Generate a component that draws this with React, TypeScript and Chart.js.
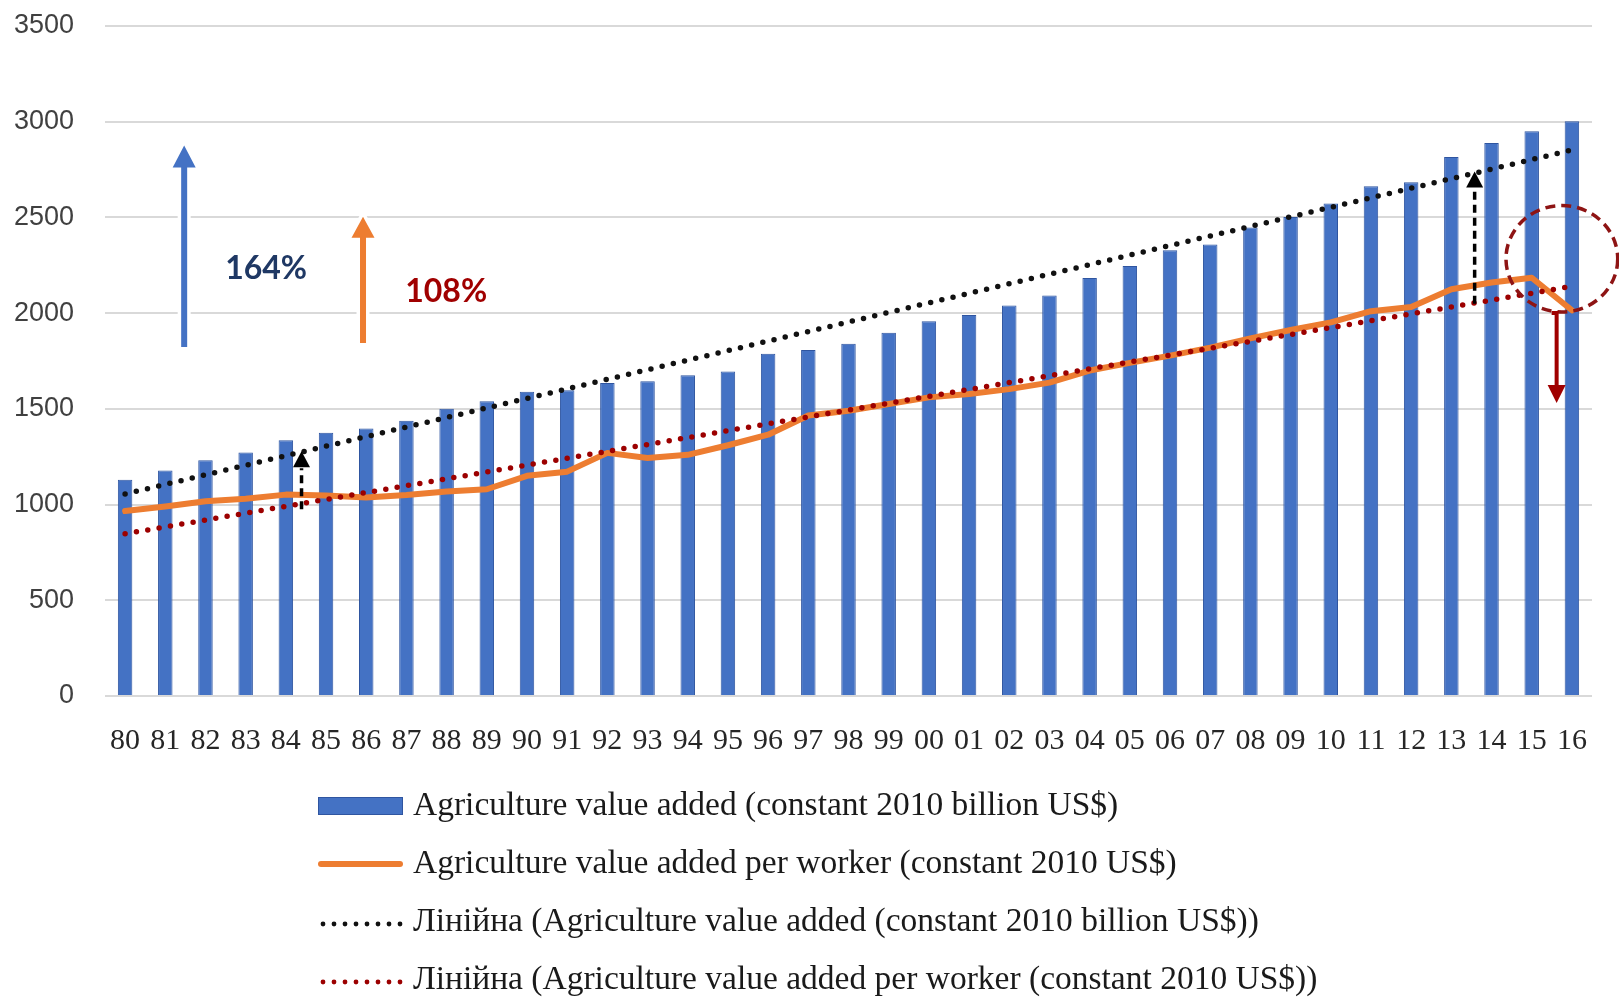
import React, { useEffect, useRef } from "react";
import { Chart, registerables } from "chart.js";

Chart.register(...registerables);

// ---------- data ----------
const years = [
  "80", "81", "82", "83", "84", "85", "86", "87", "88", "89",
  "90", "91", "92", "93", "94", "95", "96", "97", "98", "99",
  "00", "01", "02", "03", "04", "05", "06", "07", "08", "09",
  "10", "11", "12", "13", "14", "15", "16",
];

// Agriculture value added (constant 2010 billion US$)
const valueAdded = [
  1130, 1178, 1232, 1272, 1336, 1375, 1398, 1438, 1500, 1540,
  1590, 1597, 1635, 1644, 1675, 1695, 1788, 1808, 1840, 1898,
  1958, 1990, 2040, 2092, 2184, 2246, 2328, 2358, 2448, 2502,
  2573, 2663, 2684, 2816, 2889, 2950, 3002,
];

// Agriculture value added per worker (constant 2010 US$)
const perWorker = [
  966, 990, 1017, 1030, 1052, 1047, 1037, 1050, 1068, 1080,
  1150, 1172, 1270, 1243, 1260, 1310, 1365, 1465, 1490, 1525,
  1560, 1578, 1603, 1637, 1700, 1740, 1778, 1820, 1868, 1912,
  1952, 2010, 2032, 2125, 2160, 2185, 2015,
];

const yTickMin = 0;
const yTickMax = 3500;
const yTickStep = 500;

const seriesLabels = [
  "Agriculture value added (constant 2010 billion US$)",
  "Agriculture value added per worker (constant 2010 US$)",
  "Лінійна (Agriculture value added (constant 2010 billion US$))",
  "Лінійна (Agriculture value added per worker (constant 2010 US$))",
];

const growthLabels = ["164%", "108%"];

// least-squares linear trendline (as Excel's "Linear" trendline)
function linearTrend(values: number[]): number[] {
  const n = values.length;
  let sx = 0, sy = 0, sxx = 0, sxy = 0;
  values.forEach((v, i) => {
    sx += i; sy += v; sxx += i * i; sxy += i * v;
  });
  const slope = (n * sxy - sx * sy) / (n * sxx - sx * sx);
  const intercept = (sy - slope * sx) / n;
  return values.map((_, i) => intercept + slope * i);
}

// ---------- drawing helpers ----------
const BLUE = "#4472C4";
const BLUE_EDGE = "#2F55A0";
const ORANGE = "#ED7D31";
const DARK_RED = "#A00000";

function solidArrow(
  ctx: CanvasRenderingContext2D,
  x: number, yBase: number, yTip: number,
  color: string, shaft: number, headW: number, headL: number
) {
  const dir = yBase > yTip ? 1 : -1;
  const yh = yTip + dir * headL;
  ctx.beginPath();
  ctx.moveTo(x - shaft / 2, yBase);
  ctx.lineTo(x - shaft / 2, yh);
  ctx.lineTo(x - headW / 2, yh);
  ctx.lineTo(x, yTip);
  ctx.lineTo(x + headW / 2, yh);
  ctx.lineTo(x + shaft / 2, yh);
  ctx.lineTo(x + shaft / 2, yBase);
  ctx.closePath();
  ctx.save();
  ctx.lineJoin = "round";
  ctx.strokeStyle = "#ffffff";
  ctx.lineWidth = 7;
  ctx.stroke();
  ctx.fillStyle = color;
  ctx.fill();
  ctx.restore();
}

function dashedArrow(
  ctx: CanvasRenderingContext2D,
  x: number, yBase: number, yTip: number,
  color: string, width: number, dash: number[], headW: number, headL: number
) {
  const dir = yBase > yTip ? 1 : -1;
  const yh = yTip + dir * headL;
  ctx.save();
  ctx.strokeStyle = color;
  ctx.lineWidth = width;
  ctx.setLineDash(dash);
  ctx.beginPath();
  ctx.moveTo(x, yBase);
  ctx.lineTo(x, yh + dir * 1);
  ctx.stroke();
  ctx.setLineDash([]);
  ctx.fillStyle = color;
  ctx.beginPath();
  ctx.moveTo(x - headW / 2, yh);
  ctx.lineTo(x, yTip);
  ctx.lineTo(x + headW / 2, yh);
  ctx.closePath();
  ctx.fill();
  ctx.restore();
}

const annotationPlugin = {
  id: "annotations",
  afterDatasetsDraw(chart: any) {
    const { ctx } = chart;
    const xs = chart.scales.x;
    const ys = chart.scales.y;
    const X = (i: number) => xs.getPixelForValue(i);
    const Y = (v: number) => ys.getPixelForValue(v);

    // growth arrows
    solidArrow(ctx, X(1.47), Y(1823), Y(2876), BLUE, 6, 23, 22);
    solidArrow(ctx, X(5.92), Y(1844), Y(2504), ORANGE, 6, 23, 21);

    ctx.save();
    ctx.font = "bold 32px Lato";
    ctx.textBaseline = "middle";
    ctx.textAlign = "left";
    ctx.fillStyle = "#1F3864";
    ctx.fillText(growthLabels[0], X(2.49), Y(2232));
    ctx.fillStyle = DARK_RED;
    ctx.fillText(growthLabels[1], X(6.97), Y(2111));
    ctx.restore();

    // gap arrows between trend lines
    dashedArrow(ctx, X(4.39), Y(975), Y(1279), "#000000", 3.5, [8, 5], 17, 16);
    dashedArrow(ctx, X(33.58), Y(2049), Y(2740), "#000000", 3.5, [8, 5], 17, 16);

    // dashed ellipse around the 2015-2016 drop
    const cx = X(35.75);
    const cy = Y(2284);
    const rx = X(35.75 + 1.39) - cx;
    const ry = Y(2284 - 278) - cy;
    ctx.save();
    ctx.strokeStyle = "#8E1414";
    ctx.lineWidth = 3.5;
    ctx.setLineDash([10, 6]);
    ctx.beginPath();
    ctx.ellipse(cx, cy, rx, ry, 0, 0, Math.PI * 2);
    ctx.stroke();
    ctx.restore();

    // down arrow
    ctx.save();
    const ax = X(35.62);
    const ya = Y(2001);
    const yt = Y(1530);
    ctx.strokeStyle = DARK_RED;
    ctx.lineWidth = 4;
    ctx.beginPath();
    ctx.moveTo(ax - 5, ya);
    ctx.lineTo(ax, ya);
    ctx.lineTo(ax, yt - 16);
    ctx.stroke();
    ctx.fillStyle = DARK_RED;
    ctx.beginPath();
    ctx.moveTo(ax - 9, yt - 18);
    ctx.lineTo(ax, yt);
    ctx.lineTo(ax + 9, yt - 18);
    ctx.closePath();
    ctx.fill();
    ctx.restore();
  },
  afterDraw(chart: any) {
    const { ctx, chartArea } = chart;
    const ds = chart.data.datasets;
    const x0 = chartArea.left + 213;
    const symW = 85;
    const textX = x0 + 95;
    const rows = [110, 168, 226, 284].map((d) => chartArea.bottom + d);
    ctx.save();
    ctx.font = '33.5px "Liberation Serif"';
    ctx.textBaseline = "middle";
    ctx.textAlign = "left";
    rows.forEach((y: number, i: number) => {
      const d = ds[i];
      if (i === 0) {
        ctx.fillStyle = d.backgroundColor;
        ctx.fillRect(x0, y - 9, symW, 18);
        ctx.strokeStyle = d.borderColor;
        ctx.lineWidth = 1;
        ctx.strokeRect(x0 + 0.5, y - 8.5, symW - 1, 17);
      } else if (i === 1) {
        ctx.strokeStyle = d.borderColor;
        ctx.lineWidth = 6;
        ctx.lineCap = "round";
        ctx.beginPath();
        ctx.moveTo(x0 + 3, y);
        ctx.lineTo(x0 + symW - 3, y);
        ctx.stroke();
      } else {
        ctx.fillStyle = d.borderColor;
        for (let k = 0; k < 8; k++) {
          ctx.beginPath();
          ctx.arc(x0 + 5 + k * 11, y + 2, 2.4, 0, Math.PI * 2);
          ctx.fill();
        }
      }
      ctx.fillStyle = "#1a1a1a";
      ctx.fillText(d.label, textX, y);
    });
    ctx.restore();
  },
};

export default function App() {
  const canvasRef = useRef<HTMLCanvasElement | null>(null);

  useEffect(() => {
    const canvas = canvasRef.current;
    if (!canvas) return;
    const chart = new Chart(canvas, {
      type: "bar",
      data: {
        labels: years,
        datasets: [
          {
            type: "bar",
            label: seriesLabels[0],
            data: valueAdded,
            backgroundColor: BLUE,
            borderColor: BLUE_EDGE,
            borderWidth: 1,
            barPercentage: 0.36,
            categoryPercentage: 1,
            order: 4,
          },
          {
            type: "line",
            label: seriesLabels[1],
            data: perWorker,
            borderColor: ORANGE,
            backgroundColor: ORANGE,
            borderWidth: 6,
            pointRadius: 0,
            tension: 0,
            borderJoinStyle: "round",
            borderCapStyle: "round",
            order: 3,
          },
          {
            type: "line",
            label: seriesLabels[2],
            data: linearTrend(valueAdded),
            borderColor: "#111111",
            backgroundColor: "#111111",
            borderWidth: 5.5,
            borderDash: [0, 11.5],
            borderCapStyle: "round",
            pointRadius: 0,
            order: 2,
          },
          {
            type: "line",
            label: seriesLabels[3],
            data: linearTrend(perWorker),
            borderColor: "#9C0000",
            backgroundColor: "#9C0000",
            borderWidth: 5.5,
            borderDash: [0, 11.5],
            borderCapStyle: "round",
            pointRadius: 0,
            order: 1,
          },
        ] as any,
      },
      options: {
        responsive: false,
        animation: false,
        layout: { padding: { left: 0, right: 27, top: 26, bottom: 242 } },
        plugins: {
          legend: { display: false },
          tooltip: { enabled: false },
        },
        scales: {
          x: {
            grid: { display: false },
            border: { display: false },
            ticks: {
              autoSkip: false,
              maxRotation: 0,
              minRotation: 0,
              padding: 19,
              color: "#262626",
              font: { family: "Liberation Serif", size: 30 },
            },
            afterFit: (s: any) => { s.height = 60; },
          },
          y: {
            min: yTickMin,
            max: yTickMax,
            ticks: {
              stepSize: yTickStep,
              padding: 0,
              color: "#404040",
              font: { family: "Liberation Sans", size: 27 },
              callback: (v: any) => String(v),
            },
            grid: {
              color: "#D9D9D9",
              lineWidth: 2,
              drawTicks: true,
              tickLength: 31,
              tickColor: "rgba(0,0,0,0)",
            },
            border: { display: false },
            afterFit: (s: any) => { s.width = 105; },
          },
        },
      },
      plugins: [annotationPlugin],
    });
    return () => chart.destroy();
  }, []);

  return (
    <div style={{ position: "fixed", left: 0, top: 0, width: 1619, height: 998, background: "#ffffff" }}>
      <canvas ref={canvasRef} width={1619} height={998} style={{ width: 1619, height: 998, display: "block" }} />
    </div>
  );
}
